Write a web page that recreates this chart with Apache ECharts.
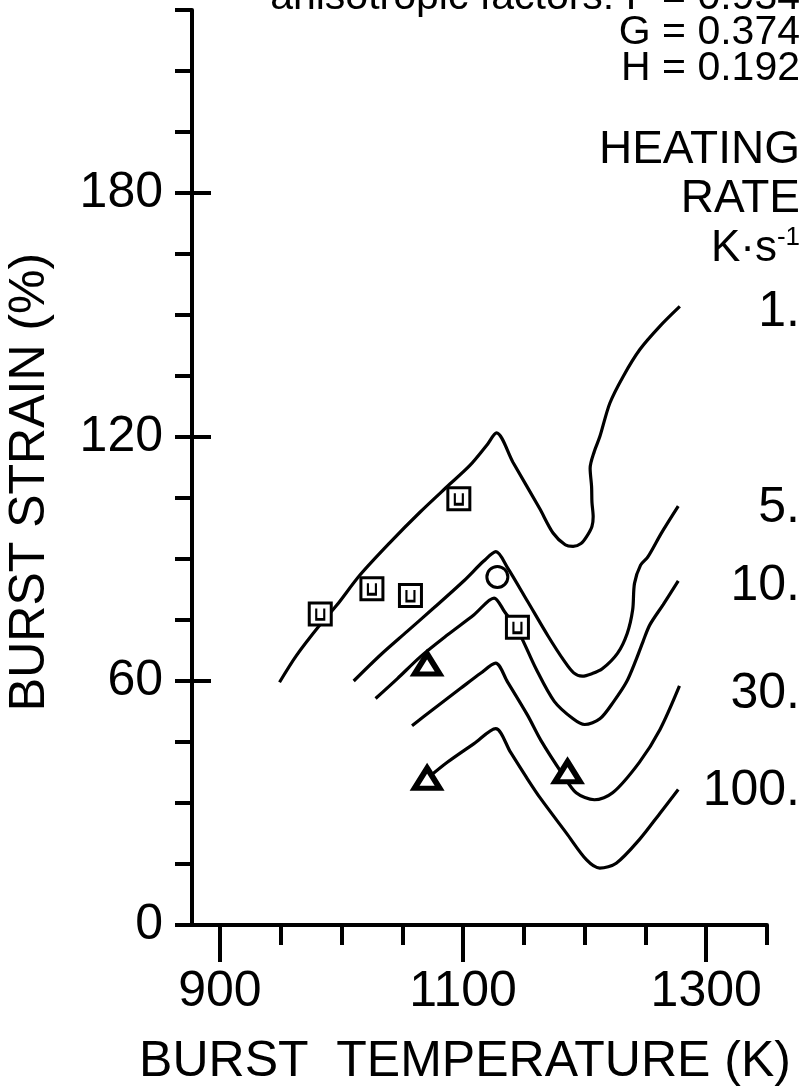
<!DOCTYPE html>
<html>
<head>
<meta charset="utf-8">
<script src="https://cdn.jsdelivr.net/npm/echarts@6/dist/echarts.min.js"></script>
<style>html,body{margin:0;padding:0;background:#fff}#c{width:806px;height:1087px}</style>
</head>
<body>
<div id="c"></div>
<script>
// ---- data ----
const xMajorTicks = [900, 1100, 1300];
const xMinorTicks = [950, 1000, 1050, 1150, 1200, 1250, 1350];
const yLabelTicks = [0, 60, 120, 180];
const yMajorTicks = [60, 120, 180];
const rateLabels = ['1.', '5.', '10.', '30.', '100.'];

const curve1 = [[949,59.7],[963,66.3],[982,73.7],[996,78.6],[1015,86],[1040,94.1],[1064.5,101.5],[1086.5,107.7],[1105.6,113],[1119.3,117.9],[1127.5,121],[1141,113.8],[1163,102.4],[1174,96.4],[1184,93.5],[1190.5,93.1],[1197,93.8],[1201.6,95.5],[1206,98],[1207,100.4],[1206,104],[1205.7,107.8],[1204.5,112.3],[1208,116.5],[1212.5,120.1],[1220.7,128.3],[1231.7,134.9],[1245.4,141.5],[1261.8,147.2],[1278.3,152.1]];
const curve5 = [[1010,60],[1032,66.4],[1054,72.2],[1076,78],[1100.5,84.6],[1117,89.5],[1127,91.8],[1136.5,87.9],[1153,79.6],[1170,71],[1183,65],[1191,62],[1198,61.2],[1206,61.8],[1214.5,63],[1227,66.8],[1235,71.7],[1239.5,77.5],[1241,84],[1246,88.5],[1252,90.5],[1263,96.3],[1277,103]];
const curve10 = [[1028,55.7],[1046,60.6],[1065,66],[1087,71.3],[1109,76.3],[1125.5,80.4],[1134,77.1],[1145,72.5],[1160,63],[1175,55],[1190.5,50.7],[1200,49.3],[1212.5,50.7],[1224,55],[1234.5,59.8],[1242,65],[1248,69.7],[1253.6,73.8],[1264.6,78.8],[1277,84.6]];
const curve30 = [[1058,49],[1076,53.2],[1098,58.2],[1114.4,61.9],[1126.8,64.4],[1136.5,59.8],[1153,51.6],[1164,45.4],[1182,37],[1193,32.5],[1208,30.8],[1223,32.5],[1245,40],[1262,48.1],[1278,58.8]];
const curve100 = [[1070.4,36],[1087,40],[1109,44.6],[1126.8,48.3],[1139,42.5],[1153,35.9],[1164,31],[1185,22.6],[1201.6,16],[1212.5,14],[1226,15.2],[1245,21],[1262,27.5],[1277,33.3]];

const squares = [[982.5,76.5],[1025,82.7],[1056.7,81],[1096.5,104.8],[1144.7,73.2]];
const circles = [[1128.2,85.6]];
const triangles = [[1070.4,64.2],[1070.4,36.1],[1185.9,37.7]];

// ---- chart ----
const FONT = 'Liberation Sans';
const black = '#000';
const chart = echarts.init(document.getElementById('c'), null, {renderer: 'canvas'});

function curveSeries(name, data) {
  return {
    name: name, type: 'line', data: data, showSymbol: false, smooth: 0.3,
    xAxisIndex: 0, yAxisIndex: 0,
    lineStyle: {color: black, width: 3.2}, silent: true, z: 3
  };
}
function plain(v) { return String(v); }

const rateY = [312, 508, 586, 694, 791];

const option = {
  animation: false,
  backgroundColor: '#fff',
  grid: {left: 192, right: 39, top: 10, bottom: 162, containLabel: false},
  xAxis: [
    {
      type: 'value', min: 877, max: 1350, position: 'bottom',
      axisLine: {show: true, onZero: false, lineStyle: {color: black, width: 4}},
      axisTick: {show: true, customValues: xMinorTicks, length: 20, lineStyle: {color: black, width: 4}},
      axisLabel: {show: false},
      splitLine: {show: false}
    },
    {
      type: 'value', min: 877, max: 1350, position: 'bottom',
      axisLine: {show: false, onZero: false},
      axisTick: {show: true, customValues: xMajorTicks, length: 37, lineStyle: {color: black, width: 4}},
      axisLabel: {show: true, customValues: xMajorTicks, formatter: plain, margin: 42, fontSize: 50, fontFamily: FONT, color: black},
      splitLine: {show: false}
    }
  ],
  yAxis: [
    {
      type: 'value', min: 0, max: 225, interval: 15, position: 'left',
      axisLine: {show: true, onZero: false, lineStyle: {color: black, width: 4}},
      axisTick: {show: true, length: 17, lineStyle: {color: black, width: 4}},
      axisLabel: {show: true, customValues: yLabelTicks, formatter: plain, margin: 29, fontSize: 50, fontFamily: FONT, color: black},
      splitLine: {show: false}
    },
    {
      type: 'value', min: 0, max: 225, position: 'left',
      axisLine: {show: false, onZero: false},
      axisTick: {show: true, inside: true, customValues: yMajorTicks, length: 19, lineStyle: {color: black, width: 4}},
      axisLabel: {show: false},
      splitLine: {show: false}
    }
  ],
  series: [
    curveSeries('1', curve1),
    curveSeries('5', curve5),
    curveSeries('10', curve10),
    curveSeries('30', curve30),
    curveSeries('100', curve100),
    {
      name: 'squares', type: 'scatter', data: squares, symbol: 'rect', symbolSize: 22,
      itemStyle: {color: '#fff', borderColor: black, borderWidth: 3, opacity: 1}, z: 5
    },
    {
      name: 'squareMarks', type: 'scatter', data: squares,
      symbol: 'path://M0,0 L0,10 L6,10 L6,0', symbolSize: [8, 11],
      itemStyle: {color: 'transparent', borderColor: black, borderWidth: 2.5, opacity: 1}, z: 6
    },
    {
      name: 'circles', type: 'scatter', data: circles, symbol: 'circle', symbolSize: 21,
      itemStyle: {color: '#fff', borderColor: black, borderWidth: 3, opacity: 1}, z: 5
    },
    {
      name: 'triangles', type: 'scatter', data: triangles, symbol: 'triangle', symbolSize: [25, 20],
      itemStyle: {color: '#fff', borderColor: black, borderWidth: 5.5, opacity: 1}, z: 5
    }
  ],
  graphic: [
    {type: 'text', x: 30, y: 482, rotation: Math.PI / 2,
      style: {text: 'BURST STRAIN (%)', font: '50px ' + FONT, fill: black, align: 'center', verticalAlign: 'middle'}},
    {type: 'text', x: 465, y: 1062,
      style: {text: 'BURST  TEMPERATURE (K)', font: '50px ' + FONT, fill: black, align: 'center', verticalAlign: 'middle'}},
    {type: 'text', x: 800, y: -2,
      style: {text: 'anisotropic factors: F = 0.934', font: '41px ' + FONT, fill: black, align: 'right', verticalAlign: 'middle'}},
    {type: 'text', x: 800, y: 33,
      style: {text: 'G = 0.374', font: '41px ' + FONT, fill: black, align: 'right', verticalAlign: 'middle'}},
    {type: 'text', x: 800, y: 69,
      style: {text: 'H = 0.192', font: '41px ' + FONT, fill: black, align: 'right', verticalAlign: 'middle'}},
    {type: 'text', x: 800, y: 150,
      style: {text: 'HEATING', font: '46px ' + FONT, fill: black, align: 'right', verticalAlign: 'middle'}},
    {type: 'text', x: 800, y: 199,
      style: {text: 'RATE', font: '46px ' + FONT, fill: black, align: 'right', verticalAlign: 'middle'}},
    {type: 'text', x: 800, y: 249,
      style: {text: '{a|K·s}{b|-1}', align: 'right', verticalAlign: 'middle',
        rich: {a: {fontSize: 44, fontFamily: FONT, color: black},
               b: {fontSize: 26, fontFamily: FONT, color: black, verticalAlign: 'top', padding: [0, 0, 22, 0]}}}}
  ].concat(rateLabels.map(function (t, i) {
    return {type: 'text', x: 800, y: rateY[i],
      style: {text: t, font: '50px ' + FONT, fill: black, align: 'right', verticalAlign: 'middle'}};
  }))
};
chart.setOption(option);
</script>
</body>
</html>
